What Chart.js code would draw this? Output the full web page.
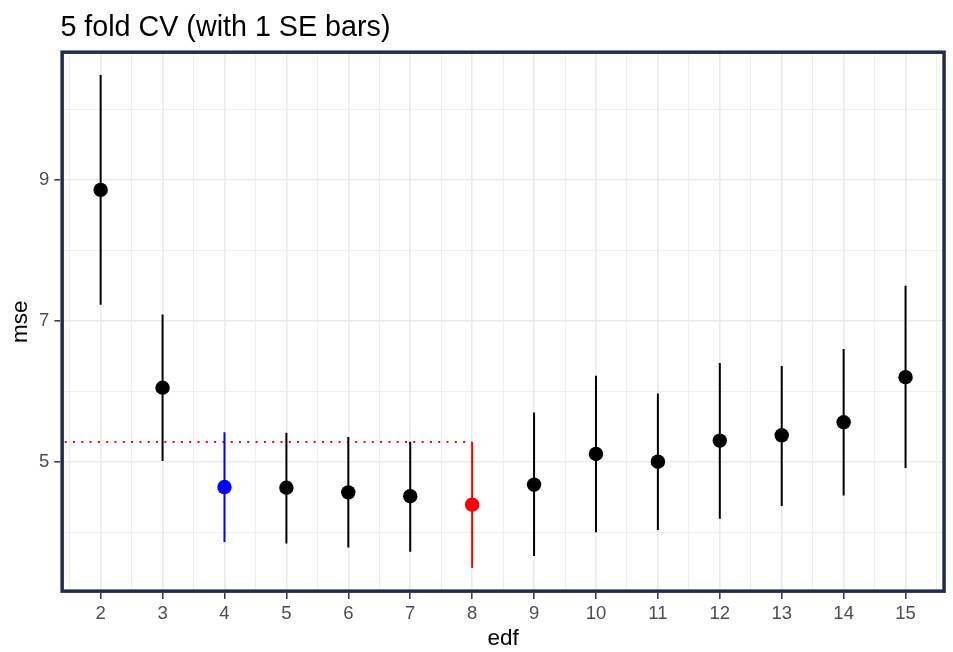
<!DOCTYPE html>
<html>
<head>
<meta charset="utf-8">
<script src="https://cdn.jsdelivr.net/npm/chart.js@4.4.0/dist/chart.umd.min.js"></script>
<style>
html, body { margin: 0; padding: 0; background: #fff; }
#wrap { width: 953px; height: 652px; }
</style>
</head>
<body>
<div id="wrap"><canvas id="cvChart" width="953" height="652"></canvas></div>
<script>
// CV results, one entry per edf
var edf      = [2, 3, 4, 5, 6, 7, 8, 9, 10, 11, 12, 13, 14, 15];
var mse      = [8.86, 6.05, 4.64, 4.63, 4.565, 4.51, 4.39, 4.675, 5.11, 5.00, 5.30, 5.375, 5.56, 6.20];
var mseUpper = [10.49, 7.09, 5.42, 5.41, 5.35, 5.285, 5.28, 5.70, 6.22, 5.97, 6.40, 6.36, 6.60, 7.50];
var mseLower = [7.23, 5.01, 3.86, 3.84, 3.78, 3.72, 3.49, 3.66, 4.00, 4.03, 4.19, 4.37, 4.52, 4.91];
var minEdf   = 8;   // lowest CV error
var oneSeEdf = 4;   // smallest model inside 1 SE of the minimum
var yTicks   = [5, 7, 9];

// axis limits (ggplot style 5% expansion)
var xMin = 1.35, xMax = 15.65;
var yMin = 3.137, yMax = 10.84;

function colorFor(e) {
    if (e === minEdf) return '#ff0000';
    if (e === oneSeEdf) return '#0000ff';
    return '#000000';
}
function isWhole(v) { return Math.abs(v - Math.round(v)) < 1e-6; }

var datasets = [];

// the points go on top
datasets.push({
    type: 'scatter',
    label: 'mse',
    data: edf.map(function(e, i) { return { x: e, y: mse[i] }; }),
    pointRadius: 7.2,
    pointBorderWidth: 0,
    pointBackgroundColor: edf.map(colorFor),
    order: 0
});

// one vertical segment per error bar
edf.forEach(function(e, i) {
    datasets.push({
        type: 'line',
        data: [{ x: e, y: mseLower[i] }, { x: e, y: mseUpper[i] }],
        borderColor: colorFor(e),
        borderWidth: 2,
        pointRadius: 0,
        order: 1
    });
});

// dotted 1 SE threshold from the left edge to the best edf
var bestIdx = edf.indexOf(minEdf);
datasets.push({
    type: 'line',
    data: [{ x: xMin, y: mseUpper[bestIdx] }, { x: minEdf, y: mseUpper[bestIdx] }],
    borderColor: '#ff0000',
    borderWidth: 2,
    borderDash: [2, 6.3],
    borderDashOffset: 4,
    pointRadius: 0,
    order: 2
});

// panel border drawn inside the plotting area
var panelBorder = {
    id: 'panelBorder',
    afterDraw: function(chart) {
        var a = chart.chartArea, c = chart.ctx;
        c.save();
        c.strokeStyle = '#232c4c';
        c.lineWidth = 3.5;
        c.strokeRect(a.left + 1.75, a.top + 1.75, a.right - a.left - 3.5, a.bottom - a.top - 3.5);
        c.restore();
    }
};

Chart.defaults.font.family = "'Liberation Sans', Arial, sans-serif";

var ctx = document.getElementById('cvChart').getContext('2d');
var myChart = new Chart(ctx, {
    type: 'scatter',
    data: { datasets: datasets },
    plugins: [panelBorder],
    options: {
        responsive: false,
        animation: false,
        layout: { padding: { left: 0, right: 6, top: 0, bottom: 0 } },
        plugins: {
            legend: { display: false },
            tooltip: { enabled: false },
            title: {
                display: true,
                text: '5 fold CV (with 1 SE bars)',
                align: 'start',
                fullSize: false,
                color: '#000',
                font: { size: 28.7, weight: 'normal' },
                padding: { top: 10.5, bottom: 5.5 }
            }
        },
        scales: {
            x: {
                type: 'linear',
                min: xMin,
                max: xMax,
                afterFit: function(s) { s.height = 59.1; },
                ticks: {
                    stepSize: 0.5,
                    includeBounds: false,
                    autoSkip: false,
                    maxRotation: 0,
                    padding: 4,
                    color: '#4d4d4d',
                    font: { size: 18.5 },
                    callback: function(v) { return isWhole(v) ? String(Math.round(v)) : ''; }
                },
                grid: {
                    color: '#ebebeb',
                    lineWidth: function(c) { return isWhole(c.tick.value) ? 1.6 : 0.8; },
                    tickLength: 6,
                    tickWidth: 1.5,
                    tickColor: function(c) { return isWhole(c.tick.value) ? '#333333' : 'rgba(0,0,0,0)'; }
                },
                border: { display: false },
                title: {
                    display: true,
                    text: 'edf',
                    color: '#000',
                    font: { size: 22.5 },
                    padding: { top: 0, bottom: 0 }
                }
            },
            y: {
                type: 'linear',
                min: yMin,
                max: yMax,
                afterFit: function(s) { s.width = 60.4; },
                ticks: {
                    stepSize: 1,
                    includeBounds: false,
                    autoSkip: false,
                    padding: 5,
                    color: '#4d4d4d',
                    font: { size: 18.5 },
                    callback: function(v) { return yTicks.indexOf(v) >= 0 ? String(v) : ''; }
                },
                grid: {
                    color: '#ebebeb',
                    lineWidth: function(c) { return yTicks.indexOf(c.tick.value) >= 0 ? 1.6 : 0.8; },
                    tickLength: 6,
                    tickWidth: 1.5,
                    tickColor: function(c) { return yTicks.indexOf(c.tick.value) >= 0 ? '#333333' : 'rgba(0,0,0,0)'; }
                },
                border: { display: false },
                title: {
                    display: true,
                    text: 'mse',
                    color: '#000',
                    font: { size: 22.5 },
                    padding: { top: 7, bottom: 0 }
                }
            }
        }
    }
});
</script>
</body>
</html>
